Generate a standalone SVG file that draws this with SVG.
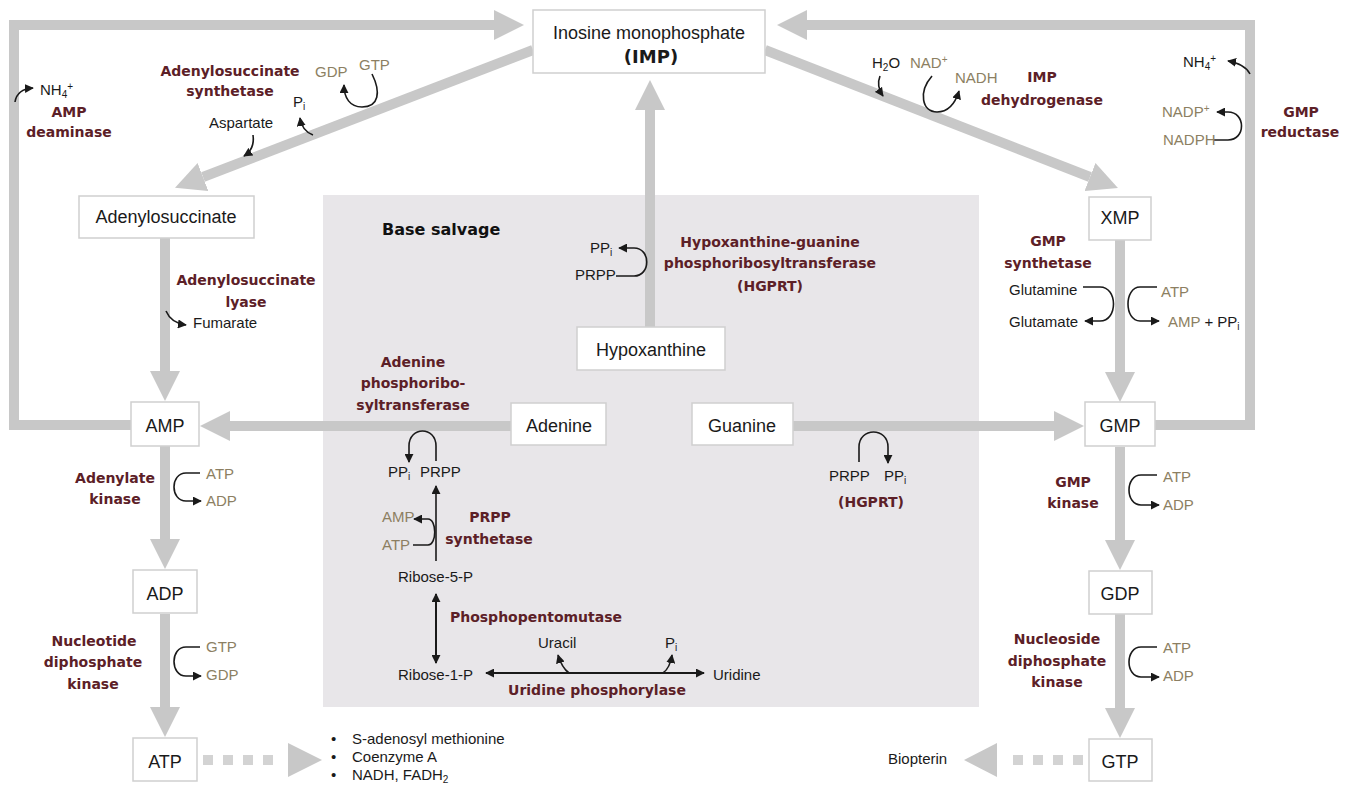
<svg xmlns="http://www.w3.org/2000/svg" width="1351" height="788" viewBox="0 0 1351 788">
<defs>
<style>
.box{fill:#fff;stroke:#cfcfcf;stroke-width:1.5}
.nl{font-family:"Liberation Sans",Arial,sans-serif;font-size:18px;fill:#1a1a1a;text-anchor:middle}
.enz{font-family:"DejaVu Sans",Verdana,sans-serif;font-weight:bold;font-size:14px;fill:#5c2027;text-anchor:middle}
.sm{font-family:"Liberation Sans",Arial,sans-serif;font-size:15px;fill:#1a1a1a}
.tan{fill:#8c7f62}
.sub{font-size:10px;baseline-shift:-3px}
.sup{font-size:10px;baseline-shift:5px}
.g{stroke:#c8c8c8;stroke-width:10;fill:none;marker-end:url(#ga)}
.b{stroke:#1a1a1a;stroke-width:1.6;fill:none;marker-end:url(#ba)}
.bb{stroke:#1a1a1a;stroke-width:2;fill:none;marker-end:url(#ba);marker-start:url(#bs)}
.sq{fill:#d3d3d3}
</style>
<marker id="ga" markerUnits="userSpaceOnUse" markerWidth="30" markerHeight="30" viewBox="0 0 30 30" refX="0" refY="15" orient="auto"><path d="M0,0 L30,15 L0,30 z" fill="#c8c8c8"/></marker>
<marker id="ba" markerUnits="userSpaceOnUse" markerWidth="9" markerHeight="9" viewBox="0 0 10 10" refX="9" refY="5" orient="auto"><path d="M0,0 L10,5 L0,10 z" fill="#1a1a1a"/></marker>
<marker id="bs" markerUnits="userSpaceOnUse" markerWidth="9" markerHeight="9" viewBox="0 0 10 10" refX="9" refY="5" orient="auto-start-reverse"><path d="M0,0 L10,5 L0,10 z" fill="#1a1a1a"/></marker>
</defs>
<rect width="1351" height="788" fill="#fff"/>
<g id="base-salvage-panel">
<rect x="323" y="195" width="656" height="512" fill="#e8e6e9"/>
<text x="382" y="235" font-family="DejaVu Sans,Verdana,sans-serif" font-weight="bold" font-size="16" fill="#111">Base salvage</text>
</g>
<g id="connectors">
<polyline class="g" points="131,425 14,425 14,25 494,25"/>
<polyline class="g" points="1155,425 1250,425 1250,25 807,25"/>
<line class="g" x1="533" y1="50" x2="203" y2="177"/>
<line class="g" x1="765" y1="50" x2="1090" y2="177"/>
<line class="g" x1="650" y1="327" x2="650" y2="110"/>
<line class="g" x1="165" y1="238" x2="165" y2="371"/>
<line class="g" x1="165" y1="446" x2="165" y2="539"/>
<line class="g" x1="165" y1="614" x2="165" y2="707"/>
<line class="g" x1="1120" y1="240" x2="1120" y2="372"/>
<line class="g" x1="1120" y1="447" x2="1120" y2="540"/>
<line class="g" x1="1120" y1="614" x2="1120" y2="708"/>
<line class="g" x1="511" y1="426" x2="230" y2="426"/>
<line class="g" x1="793" y1="426" x2="1054" y2="426"/>
<g id="dashed-atp">
<rect class="sq" x="203" y="755" width="10" height="10"/>
<rect class="sq" x="223" y="755" width="10" height="10"/>
<rect class="sq" x="243" y="755" width="10" height="10"/>
<rect class="sq" x="263" y="755" width="10" height="10"/>
<polygon points="288,743 322,760 288,777" fill="#c8c8c8"/>
</g>
<g id="dashed-gtp">
<rect class="sq" x="1073" y="755" width="10" height="10"/>
<rect class="sq" x="1053" y="755" width="10" height="10"/>
<rect class="sq" x="1033" y="755" width="10" height="10"/>
<rect class="sq" x="1013" y="755" width="10" height="10"/>
<polygon points="997,743 964,760 997,777" fill="#c8c8c8"/>
</g>
<path class="b" d="M15,102 Q17,89 33,88"/>
<path class="b" d="M372,74 C381,92 379,107 362,107 C350,107 344,98 344,85"/>
<path class="b" d="M313,135 Q302,131 300,118"/>
<path class="b" d="M253,135 Q255,149 244,156"/>
<path class="b" d="M880,76 Q876,86 883,96"/>
<path class="b" d="M932,76 C918,92 922,112 937,112 C948,112 955,104 959,91"/>
<path class="b" d="M1250,74 Q1245,64 1228,61"/>
<path class="b" d="M1214,140 L1228,140 C1246,140 1246,112 1228,112 L1217,112"/>
<path class="b" d="M166,311 Q171,323 186,325"/>
<path class="b" d="M200,473 L186,473 C170,473 170,501 186,501 L201,501"/>
<path class="b" d="M200,647 L186,647 C170,647 170,676 186,676 L201,676"/>
<path class="b" d="M1083,287 L1100,287 C1118,287 1118,321 1100,321 L1085,321"/>
<path class="b" d="M1157,287 L1140,287 C1124,287 1124,321 1140,321 L1159,321"/>
<path class="b" d="M1157,475 L1141,475 C1125,475 1125,505 1141,505 L1159,505"/>
<path class="b" d="M1157,647 L1141,647 C1125,647 1125,677 1141,677 L1159,677"/>
<path class="b" d="M616,276 L634,276 C651,276 651,248 634,248 L619,248"/>
<path class="b" d="M436,461 L436,446 C436,426 409,426 409,446 L409,462"/>
<path class="b" d="M436,561 L436,486" stroke-width="2"/>
<path class="b" d="M413,545 L428,545 C437,545 437,519 428,519 L414,519"/>
<path class="bb" d="M436,594 L436,663"/>
<path class="bb" d="M486,673 L704,673"/>
<path class="b" d="M569,673 Q562,668 558,655"/>
<path class="b" d="M663,673 Q670,668 672,655"/>
<path class="b" d="M859,462 L859,447 C859,427 888,427 888,447 L888,463"/>
</g>
<g id="node-imp"><rect class="box" x="533" y="10" width="232" height="63"/><text class="nl" x="649" y="39">Inosine monophosphate</text><text x="651" y="63" font-family="DejaVu Sans,Verdana,sans-serif" font-weight="bold" font-size="18" fill="#1a1a1a" text-anchor="middle">(IMP)</text></g>
<g id="node-adenylosuccinate"><rect class="box" x="79" y="196" width="175" height="42"/><text class="nl" x="166" y="223">Adenylosuccinate</text></g>
<g id="node-xmp"><rect class="box" x="1089" y="197" width="62" height="43"/><text class="nl" x="1120" y="224">XMP</text></g>
<g id="node-hypoxanthine"><rect class="box" x="577" y="327" width="148" height="43"/><text class="nl" x="651" y="356">Hypoxanthine</text></g>
<g id="node-adenine"><rect class="box" x="511" y="403" width="95" height="42"/><text class="nl" x="559" y="432">Adenine</text></g>
<g id="node-guanine"><rect class="box" x="692" y="403" width="101" height="42"/><text class="nl" x="742" y="432">Guanine</text></g>
<g id="node-amp"><rect class="box" x="131" y="402" width="68" height="44"/><text class="nl" x="165" y="432">AMP</text></g>
<g id="node-gmp"><rect class="box" x="1085" y="402" width="70" height="44"/><text class="nl" x="1120" y="432">GMP</text></g>
<g id="node-adp"><rect class="box" x="133" y="570" width="64" height="43"/><text class="nl" x="165" y="600">ADP</text></g>
<g id="node-gdp"><rect class="box" x="1089" y="571" width="63" height="43"/><text class="nl" x="1120" y="600">GDP</text></g>
<g id="node-atp"><rect class="box" x="133" y="738" width="64" height="43"/><text class="nl" x="165" y="768">ATP</text></g>
<g id="node-gtp"><rect class="box" x="1089" y="739" width="63" height="42"/><text class="nl" x="1120" y="768">GTP</text></g>
<g id="enzymes">
<text class="enz" x="69" y="117">AMP</text><text class="enz" x="69" y="137">deaminase</text>
<text class="enz" x="230" y="76">Adenylosuccinate</text><text class="enz" x="230" y="96">synthetase</text>
<text class="enz" x="1042" y="82">IMP</text><text class="enz" x="1042" y="105">dehydrogenase</text>
<text class="enz" x="1301" y="117">GMP</text><text class="enz" x="1300" y="137">reductase</text>
<text class="enz" x="246" y="285">Adenylosuccinate</text><text class="enz" x="246" y="307">lyase</text>
<text class="enz" x="770" y="247">Hypoxanthine-guanine</text><text class="enz" x="770" y="268">phosphoribosyltransferase</text><text class="enz" x="770" y="291">(HGPRT)</text>
<text class="enz" x="1048" y="246">GMP</text><text class="enz" x="1048" y="268">synthetase</text>
<text class="enz" x="413" y="367">Adenine</text><text class="enz" x="413" y="388">phosphoribo-</text><text class="enz" x="413" y="410">syltransferase</text>
<text class="enz" x="115" y="483">Adenylate</text><text class="enz" x="115" y="504">kinase</text>
<text class="enz" x="490" y="522">PRPP</text><text class="enz" x="489" y="544">synthetase</text>
<text class="enz" x="871" y="507">(HGPRT)</text>
<text class="enz" x="1073" y="487">GMP</text><text class="enz" x="1073" y="508">kinase</text>
<text class="enz" x="536" y="622">Phosphopentomutase</text>
<text class="enz" x="94" y="646">Nucleotide</text><text class="enz" x="93" y="667">diphosphate</text><text class="enz" x="93" y="689">kinase</text>
<text class="enz" x="597" y="695">Uridine phosphorylase</text>
<text class="enz" x="1057" y="644">Nucleoside</text><text class="enz" x="1057" y="666">diphosphate</text><text class="enz" x="1057" y="687">kinase</text>
</g>
<g id="labels">
<text class="sm" x="40" y="95">NH<tspan class="sub">4</tspan><tspan class="sup">+</tspan></text>
<text class="sm tan" x="315" y="77">GDP</text>
<text class="sm tan" x="359" y="70">GTP</text>
<text class="sm" x="293" y="107">P<tspan class="sub">i</tspan></text>
<text class="sm" x="209" y="128">Aspartate</text>
<text class="sm" x="872" y="68">H<tspan class="sub">2</tspan>O</text>
<text class="sm tan" x="910" y="68">NAD<tspan class="sup">+</tspan></text>
<text class="sm tan" x="955" y="83">NADH</text>
<text class="sm" x="1183" y="67">NH<tspan class="sub">4</tspan><tspan class="sup">+</tspan></text>
<text class="sm tan" x="1162" y="117">NADP<tspan class="sup">+</tspan></text>
<text class="sm tan" x="1163" y="145">NADPH</text>
<text class="sm" x="193" y="328">Fumarate</text>
<text class="sm" x="590" y="253">PP<tspan class="sub">i</tspan></text>
<text class="sm" x="575" y="280">PRPP</text>
<text class="sm" x="1009" y="295">Glutamine</text>
<text class="sm" x="1009" y="327">Glutamate</text>
<text class="sm tan" x="1161" y="297">ATP</text>
<text class="sm" x="1168" y="327"><tspan class="tan">AMP</tspan> + PP<tspan class="sub">i</tspan></text>
<text class="sm tan" x="206" y="479">ATP</text>
<text class="sm tan" x="206" y="506">ADP</text>
<text class="sm tan" x="206" y="652">GTP</text>
<text class="sm tan" x="206" y="680">GDP</text>
<text class="sm" x="388" y="477">PP<tspan class="sub">i</tspan></text>
<text class="sm" x="420" y="477">PRPP</text>
<text class="sm tan" x="382" y="522">AMP</text>
<text class="sm tan" x="382" y="550">ATP</text>
<text class="sm" x="398" y="582">Ribose-5-P</text>
<text class="sm" x="398" y="680">Ribose-1-P</text>
<text class="sm" x="538" y="648">Uracil</text>
<text class="sm" x="665" y="648">P<tspan class="sub">i</tspan></text>
<text class="sm" x="713" y="680">Uridine</text>
<text class="sm" x="829" y="481">PRPP</text>
<text class="sm" x="884" y="481">PP<tspan class="sub">i</tspan></text>
<text class="sm tan" x="1163" y="482">ATP</text>
<text class="sm tan" x="1163" y="510">ADP</text>
<text class="sm tan" x="1163" y="653">ATP</text>
<text class="sm tan" x="1163" y="681">ADP</text>
<text class="sm" x="888" y="764">Biopterin</text>
<text class="sm" x="331" y="744">•</text><text class="sm" x="352" y="744">S-adenosyl methionine</text>
<text class="sm" x="331" y="762">•</text><text class="sm" x="352" y="762">Coenzyme A</text>
<text class="sm" x="331" y="780">•</text><text class="sm" x="352" y="780">NADH, FADH<tspan class="sub">2</tspan></text>
</g>
</svg>
